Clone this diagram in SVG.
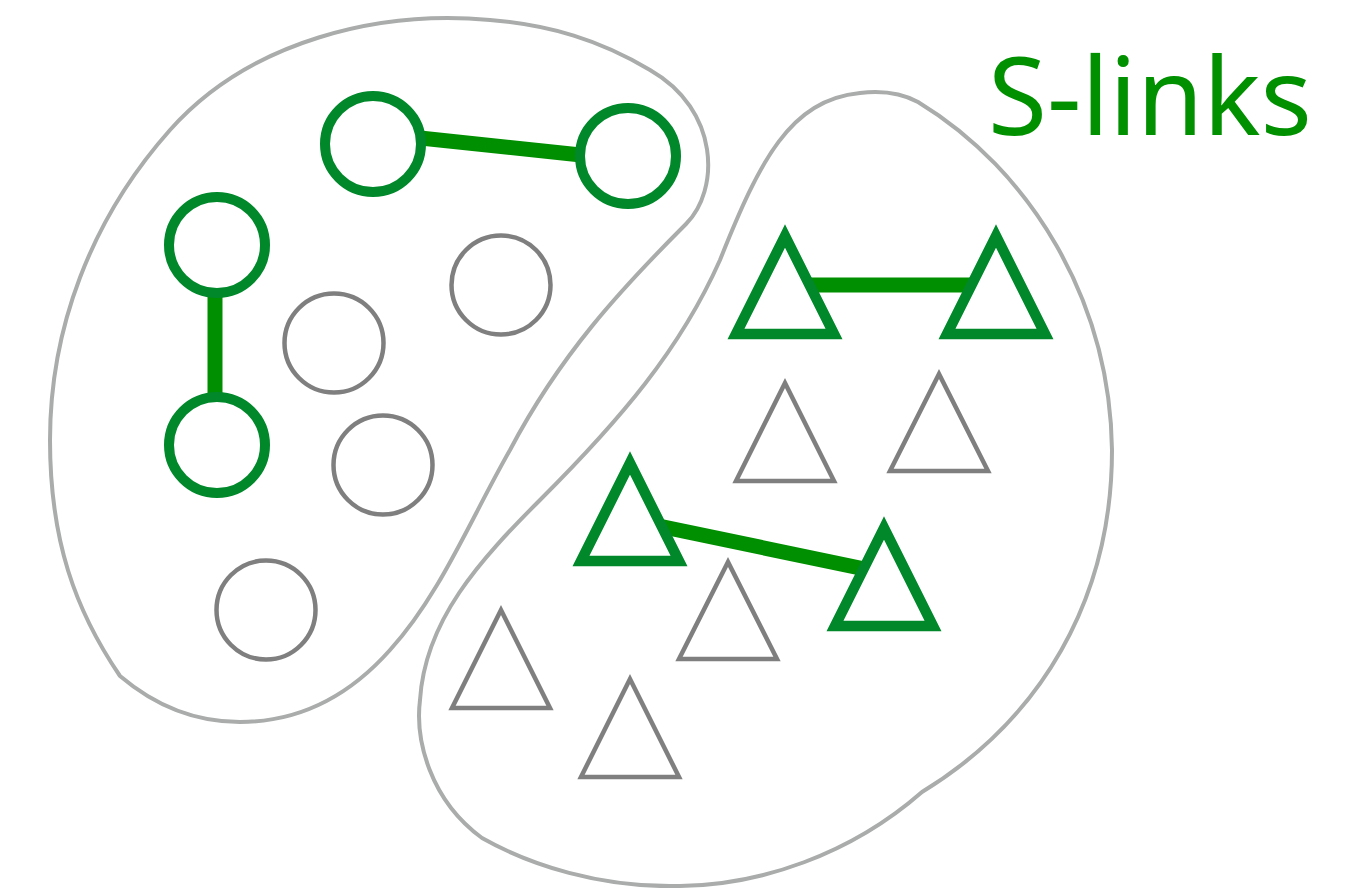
<svg xmlns="http://www.w3.org/2000/svg" width="1363" height="888" viewBox="0 0 1363 888">
<style>
.blob{fill:none;stroke:#a9acab;stroke-width:4}
.link{stroke:#008f00;stroke-width:15;fill:none}
.gs{fill:#fff;stroke:#00882b;stroke-width:10}
.gy{fill:#fff;stroke:#7f7f7f;stroke-width:4.5}
.gt{fill:#fff;stroke:#00882b;stroke-width:10.5;stroke-miterlimit:10}
.yt{fill:#fff;stroke:#7f7f7f;stroke-width:4.5;stroke-miterlimit:10}
.lbl{font-family:"Noto Sans","DejaVu Sans",sans-serif;font-size:108px;fill:#009000}
</style>
<rect width="1363" height="888" fill="#fff"/>
<g id="blobs">
<path id="blob-left" class="blob" d="M686,224 C720,190 720,110 650,70 C600,40 550,25 490,20 C380,10 250,40 170,130 C90,220 50,330 50,440 C50,540 75,610 120,676 C160,710 200,722 240,722 C300,722 350,695 390,650 C440,595 470,520 510,450 C560,355 620,290 686,224 Z"/>
<path id="blob-right" class="blob" d="M918,102 C1030,170 1110,300 1112,450 C1112,600 1040,720 922,792 C850,855 760,885 680,886 C600,888 530,865 482,838 C430,800 415,740 420,700 C425,620 480,560 540,500 C620,420 680,350 720,260 C760,160 790,100 860,93 C885,90 905,95 918,102 Z"/>
</g>
<g id="connectors">
<line class="link" x1="373" y1="133" x2="628" y2="160"/>
<line class="link" x1="215" y1="245" x2="215" y2="445"/>
<line class="link" x1="785" y1="285" x2="996" y2="285"/>
<line class="link" x1="630" y1="520" x2="884" y2="573"/>
</g>
<g id="c1"><circle class="gs" cx="373" cy="144" r="48"/></g>
<g id="c2"><circle class="gs" cx="628" cy="156" r="48"/></g>
<g id="c3"><circle class="gs" cx="217" cy="245" r="48"/></g>
<g id="c4"><circle class="gs" cx="217" cy="445" r="48"/></g>
<g id="c5"><circle class="gy" cx="501" cy="285" r="49.5"/></g>
<g id="c6"><circle class="gy" cx="334" cy="343" r="49.5"/></g>
<g id="c7"><circle class="gy" cx="383" cy="465" r="49.5"/></g>
<g id="c8"><circle class="gy" cx="266" cy="610" r="49.5"/></g>
<g id="t1"><polygon class="gt" points="785,236 736,334 834,334"/></g>
<g id="t2"><polygon class="gt" points="996,236 947,334 1045,334"/></g>
<g id="t3"><polygon class="gt" points="630,463 581,561 679,561"/></g>
<g id="t4"><polygon class="gt" points="884,528 835,626 933,626"/></g>
<g id="t5"><polygon class="yt" points="785,383 736,481 834,481"/></g>
<g id="t6"><polygon class="yt" points="939,374 890,471 988,471"/></g>
<g id="t7"><polygon class="yt" points="728,562 679,659 777,659"/></g>
<g id="t8"><polygon class="yt" points="501,610 452,708 550,708"/></g>
<g id="t9"><polygon class="yt" points="630,679 581,777 679,777"/></g>
<g id="label"><text class="lbl" x="988" y="135" textLength="324" lengthAdjust="spacingAndGlyphs">S-links</text></g>
</svg>
